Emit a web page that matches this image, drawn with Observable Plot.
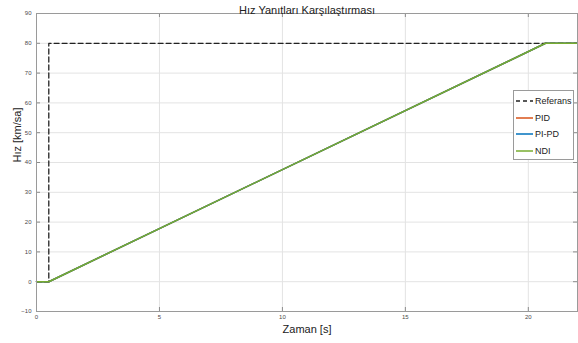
<!DOCTYPE html>
<html>
<head>
<meta charset="utf-8">
<script src="https://cdn.jsdelivr.net/npm/d3@7"></script>
<script src="https://cdn.jsdelivr.net/npm/@observablehq/plot@0.6"></script>
<style>
  html, body { margin: 0; padding: 0; background: #fff; }
  #wrap { position: relative; width: 578px; height: 343px; font-family: "Liberation Sans", Arial, sans-serif; }
  #legend { position: absolute; left: 513px; top: 90px; width: 61px; height: 70px; border: 1px solid #9a9a9a; background: #fff; box-sizing: border-box; }
  .item { position: absolute; left: 2px; height: 12px; display: flex; align-items: center; font-size: 9px; color: #222; }
  .item svg { margin-right: 2px; }
</style>
</head>
<body>
<div id="wrap"><div id="legend"></div></div>
<script>
// Reference (step) signal
const refTime = [0, 0.5, 0.5, 22];
const refSpeed = [0, 0, 80, 80];
// Controller responses (all coincide in the picture)
const respTime = [0, 0.5, 20.7, 22];
const pidSpeed = [0, 0, 80, 80];
const pipdSpeed = [0, 0, 80, 80];
const ndiSpeed = [0, 0, 80, 80];

const xTicks = [0, 5, 10, 15, 20];
const yTicks = [-10, 0, 10, 20, 30, 40, 50, 60, 70, 80, 90];

const seriesNames = ["Referans", "PID", "PI-PD", "NDI"];
const seriesColors = ["#222222", "#D95319", "#0072BD", "#77AC30"];

const toRows = (t, v) => t.map((d, i) => ({t: d, v: v[i]}));
const refRows = toRows(refTime, refSpeed);
const pidRows = toRows(respTime, pidSpeed);
const pipdRows = toRows(respTime, pipdSpeed);
const ndiRows = toRows(respTime, ndiSpeed);

const W = 578, H = 343, mL = 36, mR = 1, mT = 13, mB = 32;
const fw = W - mL - mR, fh = H - mT - mB;

const chart = Plot.plot({
  width: W, height: H,
  marginLeft: mL, marginRight: mR, marginTop: mT, marginBottom: mB,
  style: {fontFamily: "Liberation Sans, Arial, sans-serif", background: "#fff", overflow: "visible", color: "#4a4a4a"},
  x: {domain: [0, 22]},
  y: {domain: [-10, 90]},
  marks: [
    Plot.gridX(xTicks, {stroke: "#e3e3e3", strokeOpacity: 1}),
    Plot.gridY(yTicks, {stroke: "#e3e3e3", strokeOpacity: 1}),
    Plot.tickX(xTicks, {x: d => d, stroke: "#8c8c8c", insetTop: fh - 4}),
    Plot.tickX(xTicks, {x: d => d, stroke: "#8c8c8c", insetBottom: fh - 4}),
    Plot.tickY(yTicks, {y: d => d, stroke: "#8c8c8c", insetRight: fw - 4}),
    Plot.tickY(yTicks, {y: d => d, stroke: "#8c8c8c", insetLeft: fw - 4}),
    Plot.line(pidRows, {x: "t", y: "v", stroke: seriesColors[1], strokeWidth: 1.5}),
    Plot.line(pipdRows, {x: "t", y: "v", stroke: seriesColors[2], strokeWidth: 1.5}),
    Plot.line(refRows, {x: "t", y: "v", stroke: seriesColors[0], strokeWidth: 1.3, strokeDasharray: "5,3"}),
    Plot.line(ndiRows, {x: "t", y: "v", stroke: seriesColors[3], strokeWidth: 1.5}),
    Plot.frame({stroke: "#9a9a9a"}),
    Plot.axisX(xTicks, {tickSize: 0, tickPadding: 3, fontSize: 6, label: null}),
    Plot.axisY(yTicks, {tickSize: 0, tickPadding: 5, fontSize: 6, label: null}),
    Plot.text(["Zaman [s]"], {frameAnchor: "bottom", dy: 21, fontSize: 11, fill: "#222"}),
    Plot.text(["Hız [km/sa]"], {frameAnchor: "left", dx: -19, rotate: -90, fontSize: 11, fill: "#222"}),
    Plot.text(["Hız Yanıtları Karşılaştırması"], {frameAnchor: "top", dy: -7, fontSize: 11, fill: "#222"})
  ]
});
document.getElementById("wrap").prepend(chart);

const legend = document.getElementById("legend");
seriesNames.forEach((name, i) => {
  const item = document.createElement("div");
  item.className = "item";
  item.style.top = (4 + i * 16.5) + "px";
  const dash = i === 0 ? 'stroke-dasharray="4,3"' : "";
  item.innerHTML = `<svg width="17" height="4"><line x1="0" y1="2" x2="17" y2="2" stroke="${seriesColors[i]}" stroke-width="1.5" ${dash}/></svg><span>${name}</span>`;
  legend.appendChild(item);
});
</script>
</body>
</html>
